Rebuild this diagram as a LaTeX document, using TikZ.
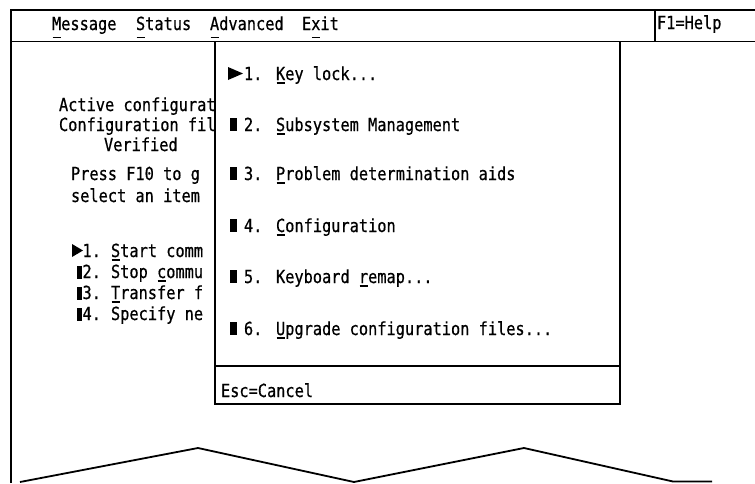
\documentclass[tikz,border=0pt]{standalone}
\usepackage{fontspec}
% condensed monospaced face for the terminal screen
\newfontfamily\termfont[FakeStretch=0.85,FakeBold=0.6]{DejaVu Sans Mono}
% mnemonic underline below a single letter (optional drop below baseline)
\newcommand\uln[2][3.6pt]{\setbox0\hbox{#2}\rlap{\hspace{0.6pt}\rule[-#1]{\dimexpr\wd0-1.2pt\relax}{1.5pt}}\box0}

\begin{document}
\begin{tikzpicture}[x=1pt,y=-1pt,
  txt/.style={anchor=base west,inner sep=0pt,outer sep=0pt,
              font=\termfont\fontsize{18}{18}\selectfont},
  frameline/.style={line width=2.4pt},
  panelline/.style={line width=1.6pt},
  bulletmark/.style={fill=black},
  tearline/.style={line width=1.8pt,line join=miter}]
\useasboundingbox (0,0) rectangle (755,483);

% screen frame and action bar
\coordinate (tl) at (11,10);
\coordinate (tr) at (755,10);
\coordinate (bl) at (11,483);
\coordinate (ml) at (11,41.5);
\coordinate (mr) at (755,41.5);
\coordinate (ht) at (655,10);
\coordinate (hb) at (655,41.5);
\draw[frameline] (bl) -- (tl) -- (tr);
\draw[panelline] (ml) -- (mr);
\draw[panelline] (ht) -- (hb);

\node[txt] (mmsg) at (52,30) {\uln[8pt]{M}essage};
\node[txt] (msta) at (136,30) {\uln[8pt]{S}tatus};
\node[txt] (madv) at (210,30) {\uln[8pt]{A}dvanced};
\node[txt] (mexi) at (302,30) {E\uln[8pt]{x}it};
\node[txt] (help) at (657,29) {F1=Help};

% main panel behind the pull-down
\node[txt] (act) at (59,111) {Active configurat};
\node[txt] (cfg) at (59,131) {Configuration fil};
\node[txt] (ver) at (104,151) {Verified};
\node[txt] (prs) at (71,180) {Press F10 to g};
\node[txt] (sel) at (71,202) {select an item};

\fill[bulletmark] (72,244) -- (72,257) -- (83,250.5) -- cycle;
\fill[bulletmark] (76.5,266) rectangle (82,278.5);
\fill[bulletmark] (76.5,287) rectangle (82,299.5);
\fill[bulletmark] (76.5,308) rectangle (82,320.5);
\node[txt] (ln1) at (82.5,257) {1.};
\node[txt] (lt1) at (111,257) {\uln{S}tart comm};
\node[txt] (ln2) at (82.5,278) {2.};
\node[txt] (lt2) at (111,278) {Stop \uln{c}ommu};
\node[txt] (ln3) at (82.5,299) {3.};
\node[txt] (lt3) at (111,299) {\uln{T}ransfer f};
\node[txt] (ln4) at (82.5,320) {4.};
\node[txt] (lt4) at (111,320) {Specify ne};

% pull-down menu of the Advanced choice
\coordinate (pa) at (215,41.5);
\coordinate (pb) at (620,404);
\coordinate (sl) at (215,366);
\coordinate (sr) at (620,366);
\draw[panelline,fill=white] (pa) rectangle (pb);
\draw[panelline] (sl) -- (sr);

\fill[bulletmark] (228,67) -- (228,80) -- (243,73.5) -- cycle;
\foreach \yb in {131,180,232,283,335}
  \fill[bulletmark] (230,\yb-13) rectangle (237,\yb);

\node[txt] (pn1) at (244,80) {1.};
\node[txt] (pt1) at (276,80) {\uln{K}ey lock...};
\node[txt] (pn2) at (244,131) {2.};
\node[txt] (pt2) at (276,131) {\uln{S}ubsystem Management};
\node[txt] (pn3) at (244,180) {3.};
\node[txt] (pt3) at (276,180) {\uln{P}roblem determination aids};
\node[txt] (pn4) at (244,232) {4.};
\node[txt] (pt4) at (276,232) {\uln{C}onfiguration};
\node[txt] (pn5) at (244,283) {5.};
\node[txt] (pt5) at (276,283) {Keyboard \uln{r}emap...};
\node[txt] (pn6) at (244,335) {6.};
\node[txt] (pt6) at (276,335) {\uln{U}pgrade configuration files...};
\node[txt] (esc) at (221,397) {Esc=Cancel};

% torn lower edge of the screen
\coordinate (z0) at (20,482);
\coordinate (z1) at (198,448);
\coordinate (z2) at (354,482);
\coordinate (z3) at (524,448);
\coordinate (z4) at (673,481.5);
\coordinate (z5) at (712,481.5);
\draw[tearline] (z0) -- (z1) -- (z2) -- (z3) -- (z4) -- (z5);
\end{tikzpicture}
\end{document}
